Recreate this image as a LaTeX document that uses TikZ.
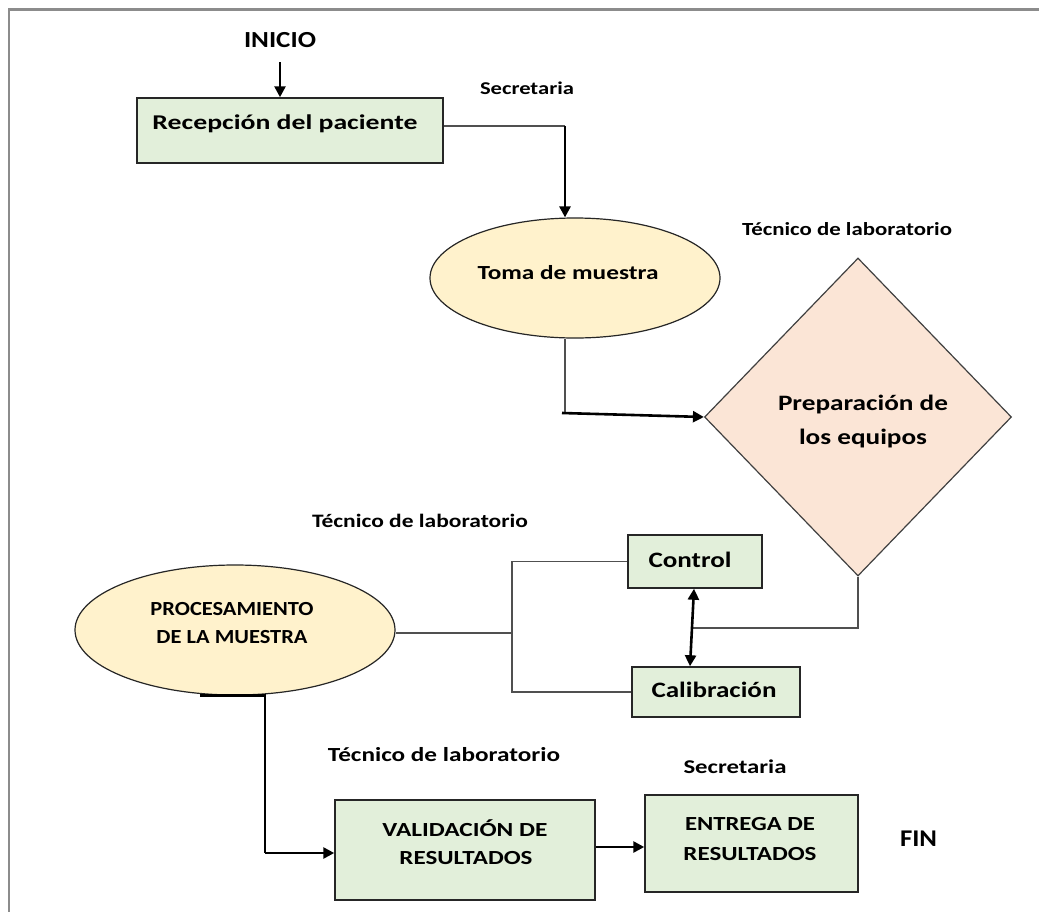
\documentclass[tikz,border=0pt]{standalone}
\usepackage{fontspec}
\usepackage{graphicx}
\setmainfont{Carlito}
\usetikzlibrary{shapes.geometric,arrows.meta}
\definecolor{boxgreen}{RGB}{226,239,218}
\definecolor{ellyellow}{RGB}{255,242,204}
\definecolor{diapeach}{RGB}{251,229,214}
\definecolor{framegray}{RGB}{140,140,140}
\definecolor{linegray}{RGB}{80,80,80}
\newcommand{\fw}[2]{\resizebox{#1}{\height}{#2}}
\tikzset{
  gbox/.style={draw=black!85, line width=1.5pt, fill=boxgreen, rectangle, inner sep=0pt},
  yell/.style={draw=black!85, line width=1.2pt, fill=ellyellow, ellipse, inner sep=0pt},
  peach/.style={draw=black!75, line width=1.2pt, fill=diapeach, diamond, inner sep=0pt},
  thinln/.style={draw=linegray, line width=1.3pt},
  thickarr/.style={draw=black, line width=2.6pt, -{Triangle[length=11pt,width=11pt]}},
  thickln/.style={draw=black, line width=2.6pt},
  dblarr/.style={draw=black, line width=2.6pt, {Triangle[length=11pt,width=11pt]}-{Triangle[length=11pt,width=11pt]}},
  txt/.style={font=\bfseries\fontsize{#1}{#1}\selectfont, inner sep=0pt, anchor=base},
}
\begin{document}
\begin{tikzpicture}[x=1pt,y=-1pt]
\useasboundingbox (0,0) rectangle (1039,911);
\fill[white] (0,0) rectangle (1039,911);
% frame (top and left edges visible)
\draw[framegray, line width=2.5pt] (9,1100) -- (9,9.5) -- (1100,9.5);

% nodes
\node[txt=23] (inicio) at (280,47) {\fw{72pt}{INICIO}};
\node[gbox, minimum width=306pt, minimum height=65pt] (rec) at (290,130.5) {};
\node[txt=21] (rect) at (285,129) {\fw{265pt}{Recepción del paciente}};
\node[txt=18] (sec1) at (527,94) {\fw{94pt}{Secretaria}};

\node[yell, minimum width=290pt, minimum height=120pt] (toma) at (575,278) {};
\node[txt=20] (tomat) at (568,279) {\fw{181pt}{Toma de muestra}};

\node[txt=18.5] (tec1) at (847,235) {\fw{210pt}{Técnico de laboratorio}};
\node[peach, minimum width=307pt, minimum height=318pt] (prep) at (858,417) {};
\node[txt=22] (prept1) at (863,410) {\fw{170pt}{Preparación de}};
\node[txt=22] (prept2) at (863,444) {\fw{128pt}{los equipos}};

\node[txt=19] (tec2) at (420,527) {\fw{216pt}{Técnico de laboratorio}};
\node[gbox, minimum width=134pt, minimum height=53pt] (control) at (695,561.5) {};
\node[txt=22] (controlt) at (690,567) {\fw{83pt}{Control}};
\node[gbox, minimum width=168pt, minimum height=50pt] (calib) at (716,692) {};
\node[txt=22] (calibt) at (714,697) {\fw{125pt}{Calibración}};

\node[yell, minimum width=320pt, minimum height=130pt] (proc) at (235,630) {};
\node[txt=20] (proct1) at (232,615) {\fw{163pt}{PROCESAMIENTO}};
\node[txt=20] (proct2) at (232,643) {\fw{151pt}{DE LA MUESTRA}};

\node[txt=20] (tec3) at (444,761) {\fw{232pt}{Técnico de laboratorio}};
\node[txt=19.5] (sec2) at (735,773) {\fw{103pt}{Secretaria}};
\node[gbox, minimum width=260pt, minimum height=100pt] (val) at (465,850) {};
\node[txt=20] (valt1) at (465,836) {\fw{165pt}{VALIDACIÓN DE}};
\node[txt=20] (valt2) at (466,864) {\fw{133pt}{RESULTADOS}};
\node[gbox, minimum width=213pt, minimum height=97pt] (ent) at (751.5,843.5) {};
\node[txt=20] (entt1) at (750,830) {\fw{130pt}{ENTREGA DE}};
\node[txt=20] (entt2) at (750,860) {\fw{133pt}{RESULTADOS}};
\node[txt=24] (fin) at (918.5,846) {\fw{37pt}{FIN}};

% connectors
\draw[thickarr] (280,62) -- (280,0 |- rec.north);
\coordinate (c1) at (565,126);
\draw[thinln] ([yshift=4.5pt]rec.east) -- (c1);
\draw[thickarr] (c1) -- (c1 |- toma.north);
\coordinate (c2) at (565,413);
\draw[thinln] (c2 |- toma.south) -- (c2);
\draw[thickarr] ([xshift=-3pt]c2) -- (prep.west);
\coordinate (c3) at (692,628);
\draw[thinln] (prep.south) -- (prep.south |- c3) -- (c3);
\draw[dblarr] ([xshift=2pt]c3 |- control.south) -- ([xshift=-2pt]c3 |- calib.north);
\coordinate (c4) at (512,633);
\draw[thinln] ([yshift=-3pt]proc.east) -- (c4);
\draw[thinln] (control.west) -- (control.west -| c4) -- (calib.west -| c4) -- (calib.west);
\coordinate (c5) at (265,853);
\draw[thickln] ([xshift=-35pt]proc.south) -- (proc.south -| c5) -- (c5);
\draw[thickarr] (c5) -- (c5 -| val.west);
\draw[thickarr] ([yshift=3pt]val.east) -- ([yshift=3pt]val.east -| ent.west);
\end{tikzpicture}
\end{document}
